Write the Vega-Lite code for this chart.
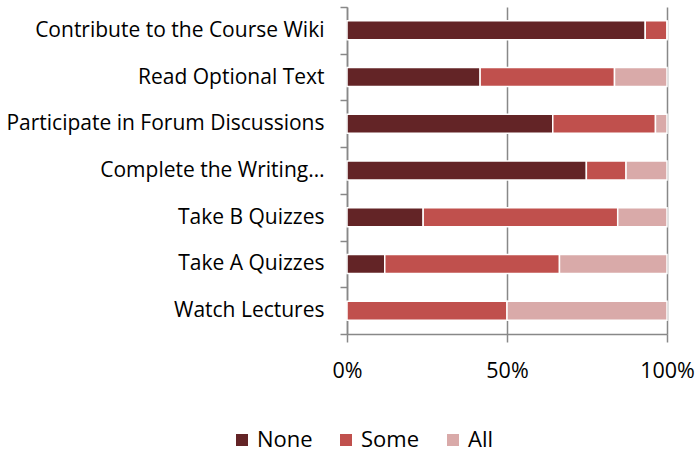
{
  "$schema": "https://vega.github.io/schema/vega-lite/v6.json",
  "width": 320,
  "height": 327,
  "autosize": "none",
  "padding": {"left": 347, "top": 7, "right": 31, "bottom": 120},
  "config": {
    "view": {"stroke": null},
    "font": "Open Sans",
    "axis": {"labelColor": "#000000", "labelFont": "Open Sans"},
    "legend": {"labelColor": "#000000", "labelFont": "Open Sans"}
  },
  "data": {
    "values": [
      {"activity": "Contribute to the Course Wiki", "response": "None", "rank": 1, "pct": 93.2},
      {"activity": "Contribute to the Course Wiki", "response": "Some", "rank": 2, "pct": 6.8},
      {"activity": "Contribute to the Course Wiki", "response": "All", "rank": 3, "pct": 0},
      {"activity": "Read Optional Text", "response": "None", "rank": 1, "pct": 41.6},
      {"activity": "Read Optional Text", "response": "Some", "rank": 2, "pct": 42.0},
      {"activity": "Read Optional Text", "response": "All", "rank": 3, "pct": 16.4},
      {"activity": "Participate in Forum Discussions", "response": "None", "rank": 1, "pct": 64.3},
      {"activity": "Participate in Forum Discussions", "response": "Some", "rank": 2, "pct": 32.1},
      {"activity": "Participate in Forum Discussions", "response": "All", "rank": 3, "pct": 3.6},
      {"activity": "Complete the Writing…", "response": "None", "rank": 1, "pct": 74.8},
      {"activity": "Complete the Writing…", "response": "Some", "rank": 2, "pct": 12.4},
      {"activity": "Complete the Writing…", "response": "All", "rank": 3, "pct": 12.8},
      {"activity": "Take B Quizzes", "response": "None", "rank": 1, "pct": 23.8},
      {"activity": "Take B Quizzes", "response": "Some", "rank": 2, "pct": 60.8},
      {"activity": "Take B Quizzes", "response": "All", "rank": 3, "pct": 15.4},
      {"activity": "Take A Quizzes", "response": "None", "rank": 1, "pct": 11.8},
      {"activity": "Take A Quizzes", "response": "Some", "rank": 2, "pct": 54.6},
      {"activity": "Take A Quizzes", "response": "All", "rank": 3, "pct": 33.6},
      {"activity": "Watch Lectures", "response": "None", "rank": 1, "pct": 0},
      {"activity": "Watch Lectures", "response": "Some", "rank": 2, "pct": 50},
      {"activity": "Watch Lectures", "response": "All", "rank": 3, "pct": 50}
    ]
  },
  "mark": {"type": "bar", "stroke": "#ffffff", "strokeWidth": 1.5, "size": 19},
  "encoding": {
    "y": {
      "field": "activity",
      "type": "nominal",
      "sort": ["Contribute to the Course Wiki", "Read Optional Text", "Participate in Forum Discussions", "Complete the Writing…", "Take B Quizzes", "Take A Quizzes", "Watch Lectures"],
      "scale": {"paddingInner": 0, "paddingOuter": 0},
      "axis": {
        "title": null,
        "domain": true,
        "domainColor": "#888888",
        "domainWidth": 1.5,
        "ticks": true,
        "tickColor": "#888888",
        "tickSize": 7,
        "tickWidth": 1.5,
        "tickBand": "extent",
        "labelFontSize": 21,
        "labelPadding": 16,
        "labelLimit": 400,
        "grid": false,
        "encode": {"labels": {"update": {"dx": {"signal": "indexOf(datum.label, 'Writing') >= 0 ? 16 : 0"}}}}
      }
    },
    "x": {
      "field": "pct",
      "type": "quantitative",
      "stack": "zero",
      "scale": {"domain": [0, 100]},
      "axis": {
        "title": null,
        "values": [0, 50, 100],
        "labelExpr": "datum.value + '%'",
        "labelFontSize": 21.5,
        "labelPadding": 18,
        "labelFlush": false,
        "domain": true,
        "domainColor": "#888888",
        "domainWidth": 1.5,
        "ticks": true,
        "tickColor": "#888888",
        "tickSize": 8,
        "tickWidth": 1.5,
        "grid": true,
        "gridColor": "#888888",
        "gridWidth": 1.5,
        "gridOpacity": 1
      }
    },
    "color": {
      "field": "response",
      "type": "nominal",
      "scale": {"domain": ["None", "Some", "All"], "range": ["#632426", "#c0504d", "#d9aaa9"]},
      "legend": {
        "title": null,
        "orient": "none",
        "legendX": -116,
        "legendY": 422,
        "direction": "horizontal",
        "symbolType": "square",
        "symbolSize": 144,
        "symbolStrokeWidth": 0,
        "symbolOpacity": 1,
        "labelFontSize": 22,
        "labelOffset": 4,
        "columnPadding": 22
      }
    },
    "order": {"field": "rank", "type": "quantitative"}
  }
}
